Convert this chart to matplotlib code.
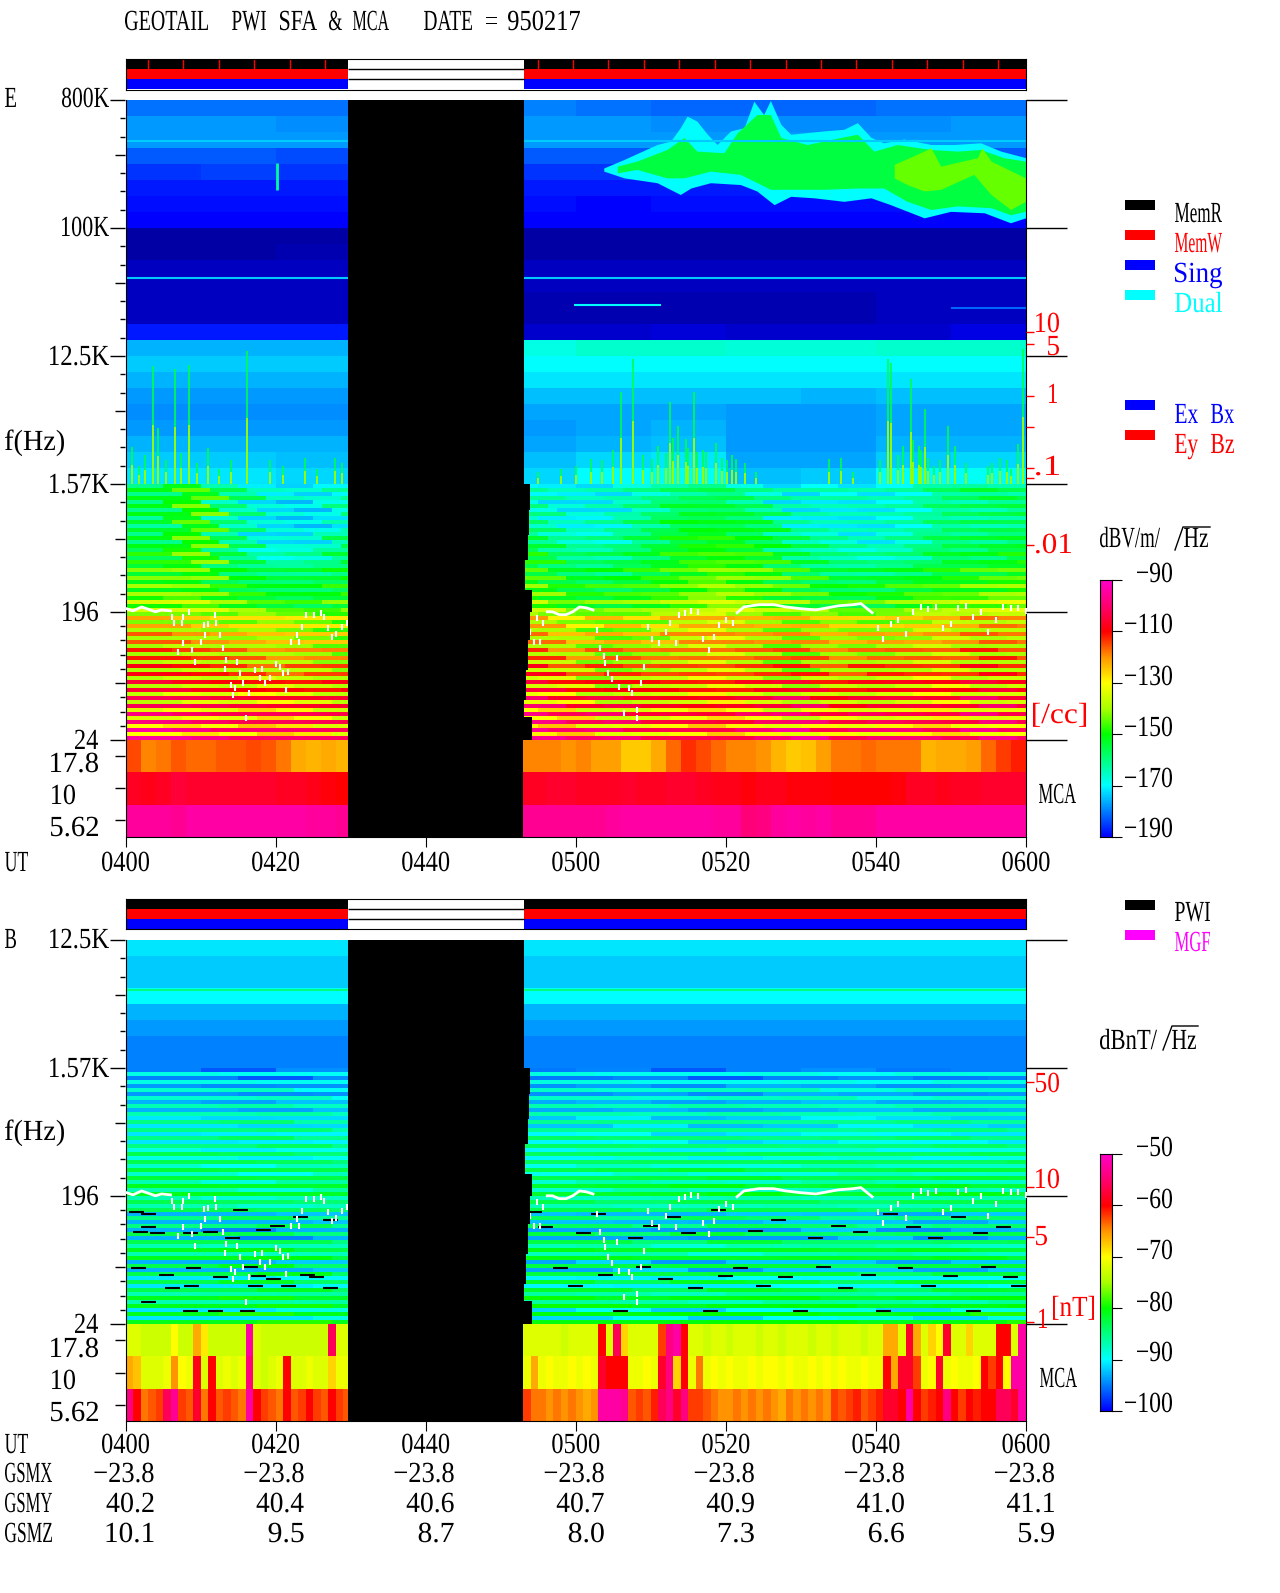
import numpy as np
import matplotlib
matplotlib.use('Agg')
import matplotlib.pyplot as plt
from matplotlib.colors import LinearSegmentedColormap, Normalize
from matplotlib.patheffects import AbstractPathEffect
from matplotlib.transforms import Affine2D

W, H = 1280, 1593

# values (E in dBV/m/rtHz, B in dBnT/rtHz)
ut_labels = ['0400', '0420', '0440', '0500', '0520', '0540', '0600']
ut_minutes = [0, 20, 40, 60, 80, 100, 120]
gsmx = ['−23.8'] * 7
gsmy = ['40.2', '40.4', '40.6', '40.7', '40.9', '41.0', '41.1']
gsmz = ['10.1', '9.5', '8.7', '8.0', '7.3', '6.6', '5.9']

gap_start = 29.7
gap_freq = [800e3, 1562, 1024, 682, 454, 279, 195, 124, 76, 47, 35.6, 24.4]
gap_end = [53.1, 53.9, 53.8, 53.7, 53.3, 54.2, 53.9, 53.7, 53.4, 53.1, 54.2]

# 800K - 1.57K, one row per 1/8 of a decade band, columns 0-30 and 50-120 in 10 min steps
e_high = [
    [-181, -181, -181, -180, -181, -182, -182, -182, -181, -181],
    [-178, -178, -179, -178, -178, -179, -179, -179, -179, -178],
    [-178, -178, -178, -178, -178, -178, -178, -178, -178, -178],
    [-183, -183, -184, -183, -183, -183, -183, -183, -184, -183],
    [-186, -185, -186, -186, -186, -186, -186, -186, -186, -186],
    [-188, -188, -188, -188, -188, -188, -188, -188, -188, -188],
    [-189, -189, -189, -189, -190, -189, -189, -189, -189, -189],
    [-190, -190, -190, -190, -190, -190, -190, -190, -190, -190],
    [-197, -197, -197, -197, -197, -197, -197, -197, -197, -197],
    [-197, -197, -196, -197, -197, -197, -197, -197, -197, -197],
    [-195, -195, -195, -195, -195, -195, -195, -195, -195, -195],
    [-195, -195, -195, -195, -195, -195, -195, -195, -195, -195],
    [-195, -195, -195, -196, -196, -196, -196, -196, -195, -195],
    [-195, -195, -195, -196, -196, -196, -196, -196, -195, -195],
    [-188, -188, -188, -194, -194, -193, -194, -194, -194, -192],
    [-176, -176, -176, -168, -166, -166, -167, -167, -166, -166],
    [-174, -174, -174, -170, -170, -170, -170, -170, -170, -170],
    [-176, -176, -176, -172, -172, -172, -172, -172, -172, -172],
    [-178, -178, -178, -175, -175, -175, -175, -176, -175, -175],
    [-179, -179, -179, -177, -177, -177, -178, -178, -177, -177],
    [-178, -178, -178, -178, -177, -176, -178, -178, -177, -177],
    [-176, -176, -176, -177, -176, -175, -178, -178, -176, -176],
    [-174, -174, -175, -175, -173, -172, -177, -177, -174, -173],
    [-172, -172, -173, -173, -170, -169, -175, -174, -170, -169],
]

# 1.57K - 24, 5 min columns: 0-30 then 50-120
e_low = [
    [-156, -148, -160, -168, -170, -166, -166, -168, -168, -164, -160, -158, -164, -168, -166, -168, -166, -160, -158, -160],
    [-156, -146, -162, -170, -172, -164, -164, -170, -168, -162, -156, -156, -160, -168, -168, -168, -166, -160, -160, -158],
    [-158, -148, -162, -170, -172, -168, -162, -168, -166, -160, -154, -154, -156, -166, -168, -168, -166, -160, -160, -160],
    [-156, -146, -160, -170, -170, -160, -158, -164, -164, -158, -152, -150, -154, -160, -164, -168, -164, -158, -158, -156],
    [-152, -145, -158, -166, -164, -158, -152, -160, -160, -156, -150, -148, -150, -158, -162, -164, -162, -156, -156, -152],
    [-148, -146, -155, -158, -158, -155, -150, -156, -156, -152, -148, -144, -146, -152, -158, -158, -156, -152, -150, -148],
    [-146, -146, -152, -155, -155, -152, -146, -152, -152, -150, -146, -142, -146, -150, -154, -154, -150, -148, -146, -144],
    [-142, -140, -146, -150, -152, -148, -142, -148, -148, -146, -142, -138, -142, -146, -150, -150, -146, -142, -140, -138],
    [-132, -134, -136, -134, -136, -138, -130, -136, -134, -136, -130, -128, -132, -134, -134, -136, -134, -130, -128, -128],
    [-128, -130, -132, -132, -134, -136, -128, -132, -134, -134, -128, -126, -130, -132, -132, -132, -132, -128, -128, -128],
    [-126, -126, -128, -130, -130, -132, -126, -130, -130, -130, -128, -126, -128, -130, -130, -130, -128, -126, -126, -128],
    [-124, -124, -126, -128, -126, -128, -122, -126, -128, -128, -126, -124, -126, -128, -128, -126, -126, -124, -124, -126],
    [-122, -122, -124, -122, -124, -124, -120, -122, -126, -124, -124, -122, -122, -124, -124, -124, -122, -120, -122, -122],
    [-120, -118, -120, -118, -120, -122, -116, -118, -122, -122, -122, -118, -120, -120, -122, -122, -120, -118, -118, -120],
    [-116, -116, -118, -114, -116, -120, -114, -114, -118, -120, -118, -116, -116, -118, -118, -118, -118, -116, -116, -118],
    [-112, -112, -116, -112, -114, -118, -112, -112, -116, -118, -116, -114, -114, -114, -116, -116, -114, -114, -114, -116],
]
e_low_split = [4, 4, 4, 4, 4, 5, 5, 6, 9, 10, 12, 13, 14, 15, 15, 15]
e_low_spread = [1.2, 1, 1, 0.8, 0.9, 1.1, 1.1, 0.8, 1.2, 1, 0.9, 0.7, 1, 1.3, 0.9, 1.1, 1, 0.8, 1.2, 1]

# whistler-mode streaks above 1.57K: minute, top in Hz
streak_t = [0.9, 3.6, 4.3, 6.6, 8.5, 11, 16.2, 19.2, 23.9, 27.9, 62, 66, 67.6, 70.2, 72.5, 73.6, 74.7, 75.8, 76.2,
            77.4, 78.7, 80.2, 81.4, 93.8, 95.4, 101.6, 102, 103.6, 104.7, 105.7, 106.5, 107.8, 109.6, 114.9, 118, 119.6,
            1.8, 2.6, 5.4, 7.4, 9.5, 12.5, 14, 21, 25.5, 28.8, 55, 58, 60, 63.5, 65, 69, 71, 72, 73, 75, 77, 79.5, 80.8, 82.5,
            84, 97, 100.5, 103, 105, 106, 107, 108.5, 110.5, 112, 115.5, 116.5, 117.5, 119]
streak_top = [2860, 10600, 3900, 10100, 10800, 2800, 13500, 2300, 2400, 2400, 2340, 6950, 12000, 2340, 5900, 4000, 3240,
              6950, 2630, 2630, 3060, 2300, 2340, 2340, 2400, 12000, 11200, 2900, 8600, 2900, 5270, 2100, 4000, 2100, 2000, 14000,
              2100, 2500, 2300, 2600, 2200, 2000, 2300, 2100, 2000, 2200, 1900, 2000, 2100, 2300, 2700, 2500, 2900, 2600, 3300, 2800,
              2700, 2400, 2500, 2200, 1900, 1900, 2300, 2500, 3200, 2700, 2400, 2300, 2900, 2200, 2200, 2400, 2300, 3000]

# emission band above 100K: outer (cyan), middle (green), inner (yellow-green) outlines
plume_top_t = [63.8, 66.5, 70.9, 72.7, 74, 74.9, 76.2, 77.6, 78.9, 80.7, 82.5, 83.8, 85.1, 86, 87.4, 88.7, 90.9, 93.1,
               95.8, 97.6, 99.4, 101.1, 103.8, 107.4, 110.5, 114, 116.7, 120]
plume_top_f = [263e3, 302e3, 385e3, 407e3, 506e3, 610e3, 564e3, 455e3, 385e3, 480e3, 506e3, 778e3, 627e3, 786e3, 534e3,
               455e3, 467e3, 480e3, 493e3, 549e3, 432e3, 396e3, 421e3, 385e3, 385e3, 396e3, 346e3, 311e3]
plume_bot_t = [63.8, 66.5, 70.9, 74, 75.4, 78, 82, 84.2, 86.5, 88.7, 91.8, 95.8, 99.4, 102, 106.5, 110, 114.5, 118, 120]
plume_bot_f = [250e3, 224e3, 207e3, 171e3, 190e3, 207e3, 201e3, 181e3, 145e3, 166e3, 162e3, 153e3, 162e3, 145e3, 117e3,
               130e3, 127e3, 108e3, 117e3]
core_top_t = [65.6, 68.2, 72.2, 74.5, 76.2, 79.8, 81.6, 84.2, 86, 87.4, 90.9, 95.4, 97.6, 99.8, 102.9, 107.4, 110.9, 114, 117.1, 120]
core_top_f = [271e3, 294e3, 355e3, 432e3, 346e3, 337e3, 467e3, 627e3, 627e3, 432e3, 385e3, 432e3, 455e3, 346e3, 385e3, 355e3, 346e3, 355e3, 311e3, 294e3]
core_bot_t = [65.6, 68.2, 72.2, 74.5, 78, 82, 86, 88.7, 93.1, 97.6, 101.1, 104.2, 107.4, 110.9, 115.4, 118, 120]
core_bot_f = [243e3, 257e3, 224e3, 224e3, 250e3, 237e3, 186e3, 186e3, 186e3, 190e3, 190e3, 153e3, 134e3, 142e3, 138e3, 123e3, 130e3]
hot_top_t = [102.5, 106.5, 107.4, 108.7, 113.6, 114.2, 115.4, 120]
hot_top_f = [279e3, 346e3, 365e3, 271e3, 311e3, 365e3, 294e3, 224e3]
hot_bot_t = [102.5, 104.2, 106.5, 108.7, 113.1, 115.4, 118, 120]
hot_bot_f = [224e3, 201e3, 181e3, 186e3, 237e3, 171e3, 134e3, 153e3]

# plasma line, solid stretches
trace_solid = [
    ([0.15, 1, 2.15, 3.3, 4, 4.8, 6], [206, 199, 212, 202, 196, 202, 199]),
    ([56.2, 56.9, 57.8, 58.7, 59.6, 60.5, 61.4, 62.3], [196, 196, 187, 187, 196, 212, 209, 202]),
    ([81.5, 82.4, 84.4, 86.4, 88, 90, 92, 95, 97, 98, 99.5],
     [193, 212, 220, 220, 212, 206, 202, 216, 220, 224, 193]),
]
# plasma line, broken stretches
trace_t = [6.2, 6.4, 7.7, 8.4, 7.5, 7, 7.7, 8.9, 9.3, 10, 10.4, 10.6, 11, 11.9, 12.1, 12.6, 13, 13.4, 13.3, 14, 14.3, 14.6,
           14.9, 15.3, 15.6, 16, 16.5, 17.3, 17.9, 18.2, 18.6, 19.3, 20, 20.6, 21, 21.7, 21.4, 22, 22.9, 23.1, 23.5, 24,
           25.1, 26, 26.5, 27, 27.5, 28.1, 28.8, 29.5,
           53.5, 53.9, 54.4, 54.8, 55.3, 55.7, 62.8, 63.2, 63.7, 63.9, 64.3, 64.8, 65.5, 65.8, 66.4, 67.1, 67.5, 68.2, 68.2,
           68.7, 69.1, 69.6, 70.2, 71.1, 72, 72.6, 73.3, 73.8, 74.5, 75.4, 76.3, 76.9, 77.8, 78.4, 79.1, 80, 80.9,
           100.3, 101, 102, 103, 104, 105, 106, 107, 108, 109, 110, 111, 112, 113, 114, 115, 116, 117, 118, 119, 120]
trace_f = [181, 164, 181, 196, 164, 102, 118, 105, 86, 120, 158, 135, 161, 187, 164, 135, 109, 89, 78, 60, 51, 57,
           86, 72, 62, 35, 52, 76, 67, 78, 62, 67, 84, 80, 72, 74, 55, 120, 135, 120, 153, 187,
           187, 193, 181, 151, 131, 137, 153, 164,
           138, 140, 120, 178, 120, 164, 146, 109, 95, 85, 72, 66, 92, 58, 38, 57, 52, 35, 40,
           62, 80, 153, 125, 118, 140, 164, 118, 187, 193, 199, 196, 125, 105, 130, 158, 172, 164,
           150, 125, 161, 172, 137, 196, 212, 206, 212, 150, 161, 209, 216, 181, 196, 140, 172, 212, 209, 209, 199]

# MCA strips in E, 2 min columns
e_mca_18_left = [-115, -119, -118, -116, -117, -117, -116, -116, -115, -116, -118, -122, -123, -122, -123]
e_mca_18_right = [-119, -119, -119, -120, -119, -121, -121, -125, -125, -122, -117, -113, -115, -117, -119, -119, -120,
                  -123, -125, -124, -121, -118, -118, -117, -118, -118, -118, -123, -122, -122, -121, -117, -114, -112]
e_mca_10_left = [-107, -108, -107, -105, -106, -106, -106, -106, -106, -106, -107, -107, -108, -109, -110]
e_mca_10_right = [-107, -107, -106, -106, -107, -107, -107, -106, -107, -107, -106, -106, -107, -108, -108, -109, -108,
                  -108, -109, -109, -109, -110, -110, -110, -110, -109, -107, -107, -108, -107, -107, -106, -106, -106]
e_mca_5_left = [-95, -95, -95, -96, -94, -94, -94, -94, -94, -94, -94, -94, -95, -95, -96]
e_mca_5_right = [-96, -96, -96, -96, -96, -96, -95, -94, -94, -94, -94, -94, -94, -95, -95, -99, -98, -95, -94, -95,
                 -94, -96, -96, -96, -94, -94, -94, -94, -94, -94, -94, -94, -94, -94]

# 12.5K - 1.57K in B, left and right of the data gap
b_high_left = [-91, -92, -92, -90, -93, -94, -95, -95]
b_high_right = [-91, -92, -92, -90, -93, -94, -95, -95]

# 1.57K - 24 in B, 10 min columns
b_low = [
    [-92, -93, -92, -92, -92, -93, -92, -92, -92, -92],
    [-91, -91, -92, -91, -91, -91, -90, -91, -91, -91],
    [-90, -90, -90, -90, -90, -90, -90, -90, -90, -90],
    [-88, -88, -89, -89, -88, -89, -89, -88, -88, -89],
    [-88, -87, -88, -87, -87, -88, -88, -87, -87, -88],
    [-86, -87, -87, -87, -86, -87, -86, -86, -87, -86],
    [-85, -86, -85, -86, -85, -85, -86, -85, -85, -85],
    [-84, -85, -84, -85, -84, -84, -85, -84, -84, -85],
    [-85, -86, -86, -85, -86, -85, -85, -86, -85, -85],
    [-89, -88, -89, -88, -89, -88, -88, -89, -89, -88],
    [-88, -89, -89, -88, -89, -88, -89, -88, -89, -88],
    [-84, -84, -85, -84, -84, -85, -84, -84, -84, -85],
    [-88, -87, -88, -88, -87, -88, -87, -88, -88, -87],
    [-87, -86, -87, -86, -87, -86, -86, -87, -86, -86],
    [-84, -83, -84, -83, -84, -84, -83, -84, -84, -83],
    [-86, -85, -85, -86, -85, -86, -85, -85, -86, -84],
]
b_low_split = [3, 3, 3, 3, 3, 3, 3, 3, 2, 4, 5, 3, 5, 4, 3, 5]
b_low_spread = [1, 1.2, 0.8, 1.1, 0.9, 1.2, 1, 0.8, 1.1, 1]

# short black drop-outs in B: minute, Hz
dash_t = [1.5, 3, 3, 2, 8.6, 9.1, 1.7, 5.5, 8.8, 3, 8.7, 12, 16.2, 16.6, 17.7, 19.7, 17.3, 23.3, 27.3, 20.2, 15.3, 18.4,
          27.3, 24.2, 25.5, 12.6, 14.2, 11.3, 21.7, 6.2, 4.2,
          54.5, 56, 58, 60, 61, 63, 64, 66, 68, 69, 70, 72, 73, 75, 76, 78, 79, 80, 82, 84, 85, 87, 88, 90, 92, 93, 95, 96,
          98, 99, 101, 102, 104, 105, 107, 108, 110, 111, 113, 114, 115, 117, 118, 119]
dash_f = [151, 146, 118, 109, 107, 61, 61, 54, 45, 35, 30, 30, 30, 62, 53, 51, 45, 139, 133, 120, 156, 113,
          44, 54, 52, 52, 99, 109, 45, 44, 107,
          150, 118, 61, 45, 107, 146, 54, 30, 99, 62, 120, 51, 139, 107, 44, 30, 156, 53, 61, 110, 45, 133, 52, 30, 99, 62, 120, 44,
          109, 54, 30, 146, 61, 118, 45, 99, 53, 139, 30, 107, 62, 118, 52, 45]

# MCA strips in B, 1 min columns
b_mca_18_left = [-72, -72, -73, -73, -73, -73, -70, -73, -73, -66, -69, -73, -73, -73, -73, -73, -52, -72, -73, -73, -73,
                 -73, -73, -73, -73, -73, -73, -56, -72, -72]
b_mca_18_right = [-72, -72, -72, -72, -72, -73, -72, -72, -72, -72, -60, -72, -56, -68, -72, -72, -72, -72, -62, -54, -52,
                  -60, -72, -72, -73, -72, -72, -73, -72, -72, -72, -73, -72, -72, -73, -72, -72, -72, -73, -72, -72, -73,
                  -72, -72, -72, -73, -72, -72, -66, -66, -72, -58, -66, -72, -68, -70, -58, -72, -72, -68, -72, -72, -72,
                  -60, -60, -72, -52]
b_mca_10_left = [-66, -67, -72, -72, -72, -71, -65, -70, -71, -59, -72, -60, -72, -71, -72, -71, -54, -72, -73, -72, -71,
                 -60, -72, -72, -71, -72, -72, -68, -71, -71]
b_mca_10_right = [-71, -66, -71, -70, -71, -71, -70, -71, -70, -71, -58, -60, -60, -60, -71, -71, -70, -71, -58, -54, -68,
                  -60, -71, -64, -71, -70, -71, -70, -71, -71, -70, -71, -70, -70, -71, -70, -71, -71, -70, -71, -70, -71,
                  -70, -71, -71, -70, -71, -71, -60, -66, -58, -58, -62, -71, -70, -58, -71, -70, -71, -71, -70, -60, -62,
                  -60, -70, -52, -52]
b_mca_5_left = [-54, -60, -64, -63, -62, -56, -53, -62, -63, -58, -64, -60, -63, -62, -63, -64, -52, -60, -62, -63, -64,
                -60, -63, -62, -60, -62, -63, -60, -62, -63]
b_mca_5_right = [-62, -64, -64, -65, -64, -65, -64, -65, -66, -65, -52, -52, -52, -53, -63, -62, -63, -61, -56, -54, -58,
                 -54, -62, -62, -63, -64, -65, -65, -64, -65, -64, -65, -64, -65, -66, -64, -65, -64, -65, -64, -65, -62,
                 -63, -62, -61, -63, -62, -61, -58, -58, -60, -52, -60, -62, -61, -60, -54, -60, -62, -60, -61, -60, -60,
                 -56, -56, -58, -52]

legend_e = [('MemR', 'black', 200), ('MemW', 'red', 230), ('Sing', 'blue', 260), ('Dual', 'cyan', 290)]
density_ticks = [332, 344, 396, 427, 468, 478, 545]

# colours follow the printed bars, with a dark tail for the noise floor
stops = [(-210, (0, 0, 0)), (-190, (0, 0, 255)), (-180, (0, 128, 255)), (-170, (0, 255, 255)), (-160, (0, 255, 128)),
         (-150, (0, 255, 0)), (-140, (170, 255, 0)), (-130, (255, 255, 0)), (-120, (255, 150, 0)), (-110, (255, 0, 0)),
         (-100, (255, 0, 110)), (-90, (255, 0, 200))]
pwi_cmap = LinearSegmentedColormap.from_list(
    'pwi', [((v + 210) / 120, tuple(c / 255 for c in rgb)) for v, rgb in stops], N=512)
norm_e = Normalize(-210, -90)
norm_b = Normalize(-110, -50)

TEXT_PT = 13
TEXT_YSCALE = 21 / TEXT_PT


class FitWidth(AbstractPathEffect):
    # the original lettering is half-width, so squeeze each string to its cell width
    def __init__(self, left, width):
        self.left, self.width = left, width

    def draw_path(self, renderer, gc, tpath, affine, rgbFace=None):
        box = tpath.get_extents(affine)
        base = affine.get_matrix()[1, 2]
        fit = (Affine2D().translate(-box.x0, -base)
               .scale(self.width / box.width, TEXT_YSCALE).translate(self.left, base))
        renderer.draw_path(gc, tpath, affine + fit, rgbFace)


fig = plt.figure(figsize=(W / 100, H / 100), dpi=100, facecolor='white')


def px_axes(left, top, right, bottom):
    return fig.add_axes([left / W, 1 - bottom / H, (right - left) / W, (bottom - top) / H])


over = fig.add_axes([0, 0, 1, 1], zorder=10)
over.set_xlim(0, W)
over.set_ylim(H, 0)
over.axis('off')


def put(s, x, y, color='black', align='l', w=None):
    if w is None:
        w = 12 * len(s) - 1 if len(s) > 1 else (8 if s == '1' else 11)
    left = {'l': x, 'r': x - w, 'c': x - w / 2}[align]
    over.text(left + w / 2, y + 10, s, color=color, ha='center', va='baseline', fontsize=TEXT_PT,
              family='Liberation Serif', path_effects=[FitWidth(left, w)])


def rule(x0, x1, y, color='black', lw=1.0):
    over.plot([x0, x1], [y, y], color=color, lw=lw, solid_capstyle='butt')


def channels(ax, table, split, spread, edges, top_hz, norm, step):
    # every row holds four receiver channels, alternate channels read low and high
    at = len([e for e in edges if e < 30])
    table = np.insert(np.array(table, float), at, np.nan, axis=1)
    spread = np.insert(np.array(spread, float), at, 1)
    n = len(table) * 4
    freq = np.geomspace(top_hz, top_hz / 8 ** (len(table) / 8), n + 1)
    for ch in range(n):
        row = ch // 4
        sign = 1 if ch % 2 else -1
        vals = table[row] + sign * split[row] * spread
        t = np.array(edges) + (ch % 4) * step / 4
        ax.pcolormesh(t, [freq[ch + 1], freq[ch]], vals[None, :], cmap=pwi_cmap, norm=norm, shading='flat')


def outline(ax, top_t, top_f, bot_t, bot_f, value, norm):
    ax.fill(top_t + bot_t[::-1], top_f + bot_f[::-1], color=pwi_cmap(norm(value)), lw=0)


def draw_gap(ax):
    for i in range(len(gap_end)):
        ax.fill_betweenx([gap_freq[i + 1], gap_freq[i]], gap_start, gap_end[i], color='black', lw=0, zorder=5)


def draw_trace(ax):
    for t, f in trace_solid:
        ax.plot(t, f, color='white', lw=2, zorder=4)
    ax.plot(trace_t, trace_f, ls='none', marker='|', ms=4, mew=1.5, color='white', zorder=4)


def draw_status(ax, read_ticks):
    ax.set_xlim(0, 120)
    ax.set_ylim(3, 0)
    for row, c in enumerate(['black', 'red', 'blue']):
        ax.barh(row + 0.5, gap_start, height=1, color=c, lw=0)
        ax.barh(row + 0.5, 120 - gap_end[0], left=gap_end[0], height=1, color=c, lw=0)
    ax.hlines([1, 2], gap_start, gap_end[0], color='black', lw=1)
    if read_ticks:
        ticks = [t for t in np.arange(3, 120, 4.72) if t < gap_start or t > gap_end[0]]
        ax.vlines(ticks, 0, 1, color='red', lw=1)
    ax.set_xticks([])
    ax.set_yticks([])


def draw_mca(ax, rows_left, rows_right, step, norm):
    ax.set_facecolor('black')
    ax.set_xlim(0, 120)
    ax.set_ylim(3, 0)
    for r in range(3):
        x_l = np.arange(len(rows_left[r]) + 1) * step
        x_r = 120 - np.arange(len(rows_right[r]), -1, -1) * step
        ax.pcolormesh(x_l, [r, r + 1], [rows_left[r]], cmap=pwi_cmap, norm=norm)
        ax.pcolormesh(x_r, [r, r + 1], [rows_right[r]], cmap=pwi_cmap, norm=norm)
    ax.axvspan(gap_start, 53.0, color='black', lw=0)
    ax.set_xticks(ut_minutes)
    ax.set_xticklabels([])
    ax.tick_params(axis='x', length=7.2, width=0.8)
    ax.set_yticks([])
    ax.spines['top'].set_visible(False)


def draw_colorbar(ax, top, bottom, ticks, norm):
    ax.imshow(np.linspace(top, bottom, 256)[:, None], aspect='auto', cmap=pwi_cmap, norm=norm,
              extent=[0, 1, bottom, top])
    ax.set_xticks([])
    ax.yaxis.tick_right()
    ax.set_yticks(ticks)
    ax.set_yticklabels([])
    ax.tick_params(axis='y', length=7, width=0.8)


def freq_ticks(y_top, counts):
    y = y_top
    for n in counts:
        mid = 3 if n == 7 else 5
        for k in range(1, n):
            rule(125 - (10 if k == mid else 5), 125, y + k * 128 / n)
        y += 128


# E panel
ax_e = px_axes(125.5, 100, 1026, 740)
ax_e.set_facecolor('black')
ax_e.set_yscale('log')
ax_e.set_xlim(0, 120)
ax_e.set_ylim(800e3 / 8 ** 5, 800e3)
high_edges = [0, 10, 20, 30, 50, 60, 70, 80, 90, 100, 110, 120]
high_vals = np.insert(np.array(e_high, float), 3, np.nan, axis=1)
ax_e.pcolormesh(high_edges, np.geomspace(800e3, 800e3 / 512, 25), high_vals, cmap=pwi_cmap, norm=norm_e, shading='flat')
outline(ax_e, plume_top_t, plume_top_f, plume_bot_t, plume_bot_f, -170, norm_e)
outline(ax_e, core_top_t, core_top_f, core_bot_t, core_bot_f, -155, norm_e)
outline(ax_e, hot_top_t, hot_top_f, hot_bot_t, hot_bot_f, -144, norm_e)
ax_e.hlines([411e3, 44.2e3], 0, 120, color=pwi_cmap(norm_e(-174)), lw=1.5)
ax_e.hlines(28.5e3, 59.8, 71.3, color=pwi_cmap(norm_e(-170)), lw=1.5)
ax_e.hlines(27.2e3, 110, 120, color=pwi_cmap(norm_e(-182)), lw=1.5)
ax_e.vlines(20.2, 185e3, 287e3, color=pwi_cmap(norm_e(-162)), lw=2)
ax_e.vlines(streak_t, 1562, streak_top, color=pwi_cmap(norm_e(-156)), lw=1.2)
ax_e.vlines(streak_t, 1562, np.sqrt(np.array(streak_top) * 1562), color=pwi_cmap(norm_e(-140)), lw=1.2)
channels(ax_e, e_low, e_low_split, e_low_spread,
         [-5, 5, 10, 15, 20, 25, 30, 45, 55, 60, 65, 70, 75, 80, 85, 90, 95, 100, 105, 110, 115, 125],
         1562.5, norm_e, 5)
draw_gap(ax_e)
draw_trace(ax_e)
ax_e.set_xticks([])
ax_e.set_yticks([])
ax_e.minorticks_off()
ax_e.spines['top'].set_visible(False)
ax_e.spines['bottom'].set_visible(False)

draw_mca(px_axes(125.5, 740, 1026, 837),
         [e_mca_18_left, e_mca_10_left, e_mca_5_left], [e_mca_18_right, e_mca_10_right, e_mca_5_right], 2, norm_e)
draw_status(px_axes(125.5, 59, 1026, 89.5), True)

# B panel
ax_b = px_axes(125.5, 940, 1026, 1324)
ax_b.set_facecolor('black')
ax_b.set_yscale('log')
ax_b.set_xlim(0, 120)
ax_b.set_ylim(12.5e3 / 8 ** 3, 12.5e3)
b_high_vals = np.array([b_high_left, [np.nan] * 8, b_high_right]).T
ax_b.pcolormesh([0, 30, 50, 120], np.geomspace(12.5e3, 1562.5, 9), b_high_vals, cmap=pwi_cmap, norm=norm_b, shading='flat')
ax_b.hlines(5560, 0, 120, color=pwi_cmap(norm_b(-85)), lw=1.5)
channels(ax_b, b_low, b_low_split, b_low_spread, [-10, 10, 20, 30, 40, 60, 70, 80, 90, 100, 110, 130], 1562.5, norm_b, 10)
ax_b.hlines(dash_f, np.array(dash_t) - 1, np.array(dash_t) + 1, color='black', lw=1.5)
draw_gap(ax_b)
draw_trace(ax_b)
ax_b.set_xticks([])
ax_b.set_yticks([])
ax_b.minorticks_off()
ax_b.spines['top'].set_visible(False)
ax_b.spines['bottom'].set_visible(False)

draw_mca(px_axes(125.5, 1324, 1026, 1421),
         [b_mca_18_left, b_mca_10_left, b_mca_5_left], [b_mca_18_right, b_mca_10_right, b_mca_5_right], 1, norm_b)
draw_status(px_axes(125.5, 899, 1026, 929), False)

# colour bars
draw_colorbar(px_axes(1100, 580, 1112, 837), -90, -190, [-90, -110, -130, -150, -170, -190], norm_e)
draw_colorbar(px_axes(1100, 1154, 1112, 1411), -50, -100, [-50, -60, -70, -80, -90, -100], norm_b)
for s, y in zip(['−90', '−110', '−130', '−150', '−170', '−190'], [572, 623, 675, 726, 777, 827]):
    put(s, 1172, y, align='r')
for s, y in zip(['−50', '−60', '−70', '−80', '−90', '−100'], [1146, 1198, 1249, 1301, 1351, 1402]):
    put(s, 1172, y, align='r')

# axis furniture
for y in [100, 228, 356, 484, 612, 740]:
    rule(110, 125, y)
    rule(1026, 1067, y)
for y in [940, 1068, 1196, 1324]:
    rule(110, 125, y)
    rule(1026, 1067, y)
freq_ticks(100, [7, 7, 7, 7, 9])
freq_ticks(940, [7, 7, 9])
for y in [756, 788, 820, 1340, 1373, 1405]:
    rule(115, 125, y)

# title
for s, x, w in [('GEOTAIL', 125, 83), ('PWI', 232, 34), ('SFA', 280, 37), ('&', 329, 13), ('MCA', 353, 36),
                ('DATE', 424, 48), ('=', 486, 11), ('950217', 508, 72)]:
    put(s, x, 20, w=w)

# frequency labels
put('E', 5, 97)
for s, x, y in [('800K', 109, 97), ('100K', 109, 226), ('12.5K', 109, 355), ('1.57K', 109, 483), ('196', 98, 611),
                ('24', 98, 739), ('17.8', 98, 762), ('10', 75, 794), ('5.62', 98, 826), ('12.5K', 109, 938),
                ('1.57K', 109, 1067), ('196', 98, 1195), ('24', 98, 1323), ('17.8', 98, 1347), ('10', 75, 1379),
                ('5.62', 98, 1411)]:
    put(s, x, y, align='r')
put('f(Hz)', 5, 440)
put('B', 5, 938)
put('f(Hz)', 5, 1130)

# time labels
put('UT', 5, 861)
put('UT', 5, 1443)
put('GSMX', 5, 1472)
put('GSMY', 5, 1502)
put('GSMZ', 5, 1532)
for i, m in enumerate(ut_minutes):
    x = 125.5 + m * 7.504
    put(ut_labels[i], x, 861, align='c')
    put(ut_labels[i], x, 1443, align='c')
    put(gsmx[i], x + 28, 1472, align='r')
    put(gsmy[i], x + 28, 1502, align='r')
    put(gsmz[i], x + 28, 1532, align='r')

# legends
for name, c, y in legend_e:
    over.fill([1125, 1155, 1155, 1125], [y, y, y + 10, y + 10], color=c, lw=0)
    put(name, 1175, y + 12, c)
for y, c, a, b in [(400, 'blue', 'Ex', 'Bx'), (430, 'red', 'Ey', 'Bz')]:
    over.fill([1125, 1155, 1155, 1125], [y, y, y + 10, y + 10], color=c, lw=0)
    put(a, 1175, y + 13, c)
    put(b, 1211, y + 13, c)
for name, c, y in [('PWI', 'black', 900), ('MGF', 'magenta', 930)]:
    over.fill([1125, 1155, 1155, 1125], [y, y, y + 10, y + 10], color=c, lw=0)
    put(name, 1175, y + 11, c)

# units
put('dBV/m/', 1100, 537, w=60)
put('Hz', 1184, 537, w=24)
over.plot([1175, 1183, 1210], [550, 527, 527], color='black', lw=1)
put('dBnT/', 1100, 1039, w=57)
put('Hz', 1172, 1039, w=24)
over.plot([1163, 1172, 1198], [1050, 1026, 1026], color='black', lw=1)

# density scale in red, drawn over the right margin
for y in density_ticks:
    rule(1026, 1034, y, 'red')
for s, x, y in [('10', 1059, 322), ('5', 1059, 345), ('1', 1057, 393), ('.1', 1059, 465), ('.01', 1071, 543)]:
    put(s, x, y, 'red', align='r')
put('[/cc]', 1033, 713, 'red', w=53)
for s, y in [('50', 1082), ('10', 1178), ('5', 1235), ('1', 1318)]:
    put(s, 1059 if len(s) == 2 else 1047, y, 'red', align='r')
for y in [1082, 1187, 1237, 1322]:
    rule(1026, 1034, y, 'red')
put('[nT]', 1053, 1306, 'red', w=41)
put('MCA', 1039, 793, w=37)
put('MCA', 1040, 1377, w=37)

fig.savefig('out.png', dpi=100)
